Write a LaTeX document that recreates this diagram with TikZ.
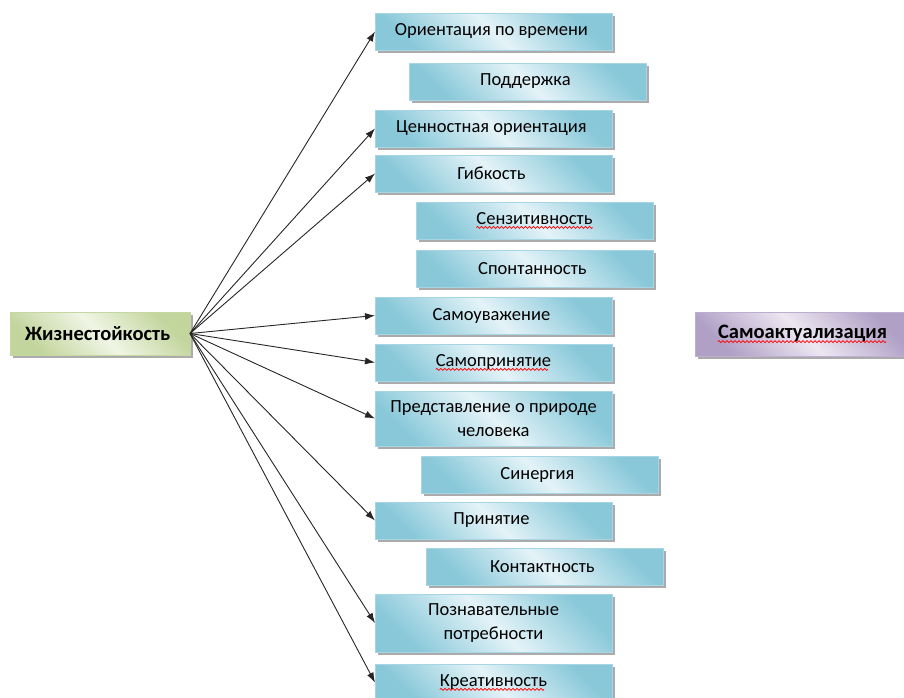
\documentclass[tikz,border=0pt]{standalone}
\usepackage{fontspec}
\setmainfont{Carlito}
\usetikzlibrary{
  positioning,
  arrows.meta,
  shadows}

%% red wavy underline (spell checker mark)
\newsavebox\wavebox
\sbox\wavebox{\tikz\draw[red, line width=0.7pt, line cap=round]
  (0pt,0pt) sin (1pt,1pt) cos (2pt,0pt) sin (3pt,-1pt) cos (4pt,0pt);}
\newcommand\spellwave[1]{\setbox0\hbox{#1}%
  \rlap{\raisebox{-4.5pt}{\hbox to \wd0{\leaders\hbox to 4pt{\hss\usebox\wavebox\hss}\hfill}}}\box0}

\definecolor{boxlight}{RGB}{228,243,248}
\definecolor{boxdark}{RGB}{136,200,217}
\definecolor{boxedge}{RGB}{168,213,227}
\definecolor{rootlight}{RGB}{240,245,229}
\definecolor{rootdark}{RGB}{194,213,156}
\definecolor{rootedge}{RGB}{198,216,162}
\definecolor{goallight}{RGB}{236,231,241}
\definecolor{goaldark}{RGB}{176,160,198}
\definecolor{goaledge}{RGB}{188,174,208}

\tikzset{
  connection_arrow/.style={-{Latex[length=10pt, width=7pt]}, line width=0.9pt, black!85}
}
\tikzset{
  %% factor : a component of the main column
  factor/.style={
    rectangle,
    draw=boxedge,
    line width=0.8pt,
    outer sep=0pt,
    left color=boxdark,
    right color=boxdark,
    middle color=boxlight,
    shading angle=135,
    minimum width=237pt,
    minimum height=37pt,
    inner sep=2pt,
    font=\fontsize{18.5}{24}\selectfont,
    drop shadow={shadow xshift=2.5pt, shadow yshift=-2.5pt, fill=black!55, opacity=0.6},
    align=center
  },
  %% root : the source quality
  root/.style={
    rectangle,
    draw=rootedge,
    line width=0.8pt,
    outer sep=0pt,
    left color=rootdark,
    right color=rootdark,
    middle color=rootlight,
    shading angle=135,
    minimum width=180pt,
    minimum height=43pt,
    font=\fontsize{20.5}{24}\selectfont\bfseries,
    drop shadow={shadow xshift=2.5pt, shadow yshift=-2.5pt, fill=black!55, opacity=0.6},
    align=center
  },
  %% goal : the target quality
  goal/.style={
    rectangle,
    draw=goaledge,
    line width=0.8pt,
    outer sep=0pt,
    left color=goaldark,
    right color=goaldark,
    middle color=goallight,
    shading angle=135,
    minimum width=215pt,
    minimum height=44pt,
    font=\fontsize{20.5}{24}\selectfont\bfseries,
    drop shadow={shadow xshift=2.5pt, shadow yshift=-2.5pt, fill=black!55, opacity=0.6},
    align=center
  }
}

\begin{document}
\begin{tikzpicture}
  [x=1pt,
  y=-1pt,
  align=center]

  \useasboundingbox (0, 0) rectangle (904, 697);

  %% Main column
  \node (time) [factor] at (493.5, 31.5) {%
    Ориентация по времени
  };

  \node (support) [factor, below=13pt of time, xshift=34pt]{%
    Поддержка
  };

  \node (values) [factor, below=10pt of support, xshift=-34pt]{%
    Ценностная ориентация
  };

  \node (flex) [factor, below=8pt of values]{%
    Гибкость
  };

  \node (sens) [factor, below=10pt of flex, xshift=41pt]{%
    \spellwave{Сензитивность}
  };

  \node (spont) [factor, below=11pt of sens]{%
    Спонтанность
  };

  \node (selfesteem) [factor, below=10pt of spont, xshift=-41pt]{%
    Самоуважение
  };

  \node (selfaccept) [factor, below=10pt of selfesteem]{%
    \spellwave{Самопринятие}
  };

  \node (nature) [factor, below=10pt of selfaccept, minimum height=55pt]{%
    Представление о природе\\человека
  };

  \node (synergy) [factor, below=10pt of nature, xshift=46pt]{%
    Синергия
  };

  \node (accept) [factor, below=9pt of synergy, xshift=-46pt]{%
    Принятие
  };

  \node (contact) [factor, below=9pt of accept, xshift=51pt]{%
    Контактность
  };

  \node (cognitive) [factor, below=9pt of contact, xshift=-51pt, minimum height=58pt]{%
    Познавательные\\потребности
  };

  \node (creative) [factor, below=12pt of cognitive]{%
    \spellwave{Креативность}
  };

  %% Source and target
  \node (hardiness) [root] at (100, 333.5){%
    Жизнестойкость
  };

  \node (selfact) [goal] at (802.5, 334){%
    \spellwave{Самоактуализация}
  };

  %% Connections
  \draw [connection_arrow] (hardiness.east) -- (time.west);
  \draw [connection_arrow] (hardiness.east) -- (values.west);
  \draw [connection_arrow] (hardiness.east) -- (flex.west);
  \draw [connection_arrow] (hardiness.east) -- (selfesteem.west);
  \draw [connection_arrow] (hardiness.east) -- (selfaccept.west);
  \draw [connection_arrow] (hardiness.east) -- (nature.west);
  \draw [connection_arrow] (hardiness.east) -- (accept.west);
  \draw [connection_arrow] (hardiness.east) -- (cognitive.west);
  \draw [connection_arrow] (hardiness.east) -- (creative.west);

\end{tikzpicture}
\end{document}
